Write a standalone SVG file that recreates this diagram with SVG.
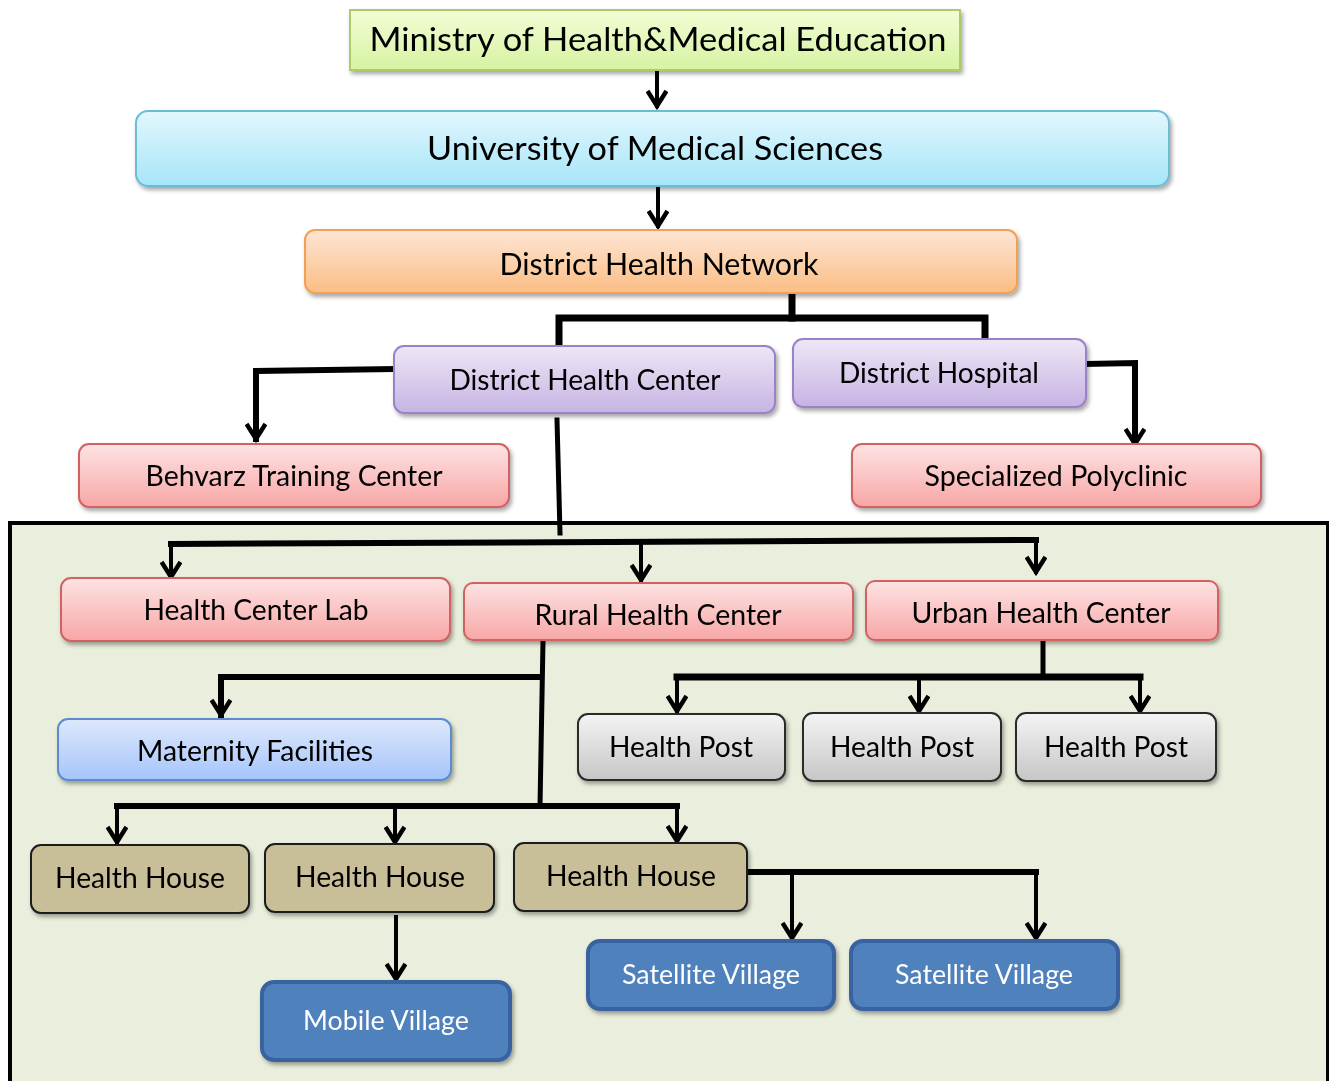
<svg xmlns="http://www.w3.org/2000/svg" width="1329" height="1081" viewBox="0 0 1329 1081">
<defs>
<style>
.t{font-family:Lato,"Open Sans","Liberation Sans",sans-serif;fill:#000;text-anchor:middle;}
.w{fill:#fff;}
.c{fill:none;stroke:#000;stroke-linejoin:miter;stroke-linecap:square;}
.box{filter:url(#sh);}
</style>
<filter id="sh" x="-10%" y="-20%" width="120%" height="150%">
<feDropShadow dx="2" dy="3" stdDeviation="2" flood-color="#000" flood-opacity="0.35"/>
</filter>
<linearGradient id="gGreen" x1="0" y1="0" x2="0" y2="1"><stop offset="0" stop-color="#f3fdd6"/><stop offset="1" stop-color="#d6f3a2"/></linearGradient>
<linearGradient id="gCyan" x1="0" y1="0" x2="0" y2="1"><stop offset="0" stop-color="#e2f7fd"/><stop offset="1" stop-color="#a6e5f9"/></linearGradient>
<linearGradient id="gOrange" x1="0" y1="0" x2="0" y2="1"><stop offset="0" stop-color="#fde6d4"/><stop offset="1" stop-color="#fbbd85"/></linearGradient>
<linearGradient id="gPurple" x1="0" y1="0" x2="0" y2="1"><stop offset="0" stop-color="#eee7f6"/><stop offset="1" stop-color="#c6b3e3"/></linearGradient>
<linearGradient id="gRed" x1="0" y1="0" x2="0" y2="1"><stop offset="0" stop-color="#fde3e3"/><stop offset="1" stop-color="#f8a6a6"/></linearGradient>
<linearGradient id="gBlue" x1="0" y1="0" x2="0" y2="1"><stop offset="0" stop-color="#dde8fb"/><stop offset="1" stop-color="#a6c5fb"/></linearGradient>
<linearGradient id="gGray" x1="0" y1="0" x2="0" y2="1"><stop offset="0" stop-color="#f4f4f4"/><stop offset="1" stop-color="#c6c6c6"/></linearGradient>
<marker id="ah" viewBox="0 0 22 22" refX="18" refY="11" markerWidth="22" markerHeight="22" markerUnits="userSpaceOnUse" orient="auto">
<path d="M3,1.5 L18,11 L3,20.5" fill="none" stroke="#000" stroke-width="4.5" stroke-linejoin="miter"/>
</marker>
</defs>
<rect x="0" y="0" width="1329" height="1081" fill="#fff"/>
<g id="panel">
<rect x="10" y="523" width="1318" height="570" fill="#e9efdc" stroke="#000" stroke-width="4"/>
</g>
<g id="connectors">
<path class="c" d="M657,72 V106" stroke-width="4" marker-end="url(#ah)"/>
<path class="c" d="M658,188 V226" stroke-width="4" marker-end="url(#ah)"/>
<path class="c" d="M792,293 V318" stroke-width="7"/>
<path class="c" d="M559,345 V318 H985 V338" stroke-width="7" stroke-linecap="butt"/>
<path class="c" d="M394,369 L256,371 V439" stroke-width="6" stroke-linecap="butt" marker-end="url(#ah)"/>
<path class="c" d="M1086,364 L1135,363 V444" stroke-width="6" stroke-linecap="butt" marker-end="url(#ah)"/>
<path class="c" d="M557,420 L560,533" stroke-width="5" stroke-linecap="butt"/>
<path class="c" d="M171,544 L1036,540" stroke-width="6"/>
<path class="c" d="M171,544 V577" stroke-width="4" stroke-linecap="butt" marker-end="url(#ah)"/>
<path class="c" d="M641,541 V580" stroke-width="4" stroke-linecap="butt" marker-end="url(#ah)"/>
<path class="c" d="M1036,540 V572" stroke-width="4" stroke-linecap="butt" marker-end="url(#ah)"/>
<path class="c" d="M543,641 L540,806" stroke-width="5" stroke-linecap="butt"/>
<path class="c" d="M537,677 H221 V715" stroke-width="6" stroke-linecap="butt" marker-end="url(#ah)"/>
<path class="c" d="M117,806 H677" stroke-width="6"/>
<path class="c" d="M117,806 V842" stroke-width="4" stroke-linecap="butt" marker-end="url(#ah)"/>
<path class="c" d="M395,806 V842" stroke-width="4" stroke-linecap="butt" marker-end="url(#ah)"/>
<path class="c" d="M677,806 V841" stroke-width="4" stroke-linecap="butt" marker-end="url(#ah)"/>
<path class="c" d="M1043,641 V677" stroke-width="5" stroke-linecap="butt"/>
<path class="c" d="M677,677 H1140" stroke-width="7"/>
<path class="c" d="M677,677 V711" stroke-width="4" stroke-linecap="butt" marker-end="url(#ah)"/>
<path class="c" d="M919,677 V711" stroke-width="4" stroke-linecap="butt" marker-end="url(#ah)"/>
<path class="c" d="M1140,677 V711" stroke-width="4" stroke-linecap="butt" marker-end="url(#ah)"/>
<path class="c" d="M396,917 V979" stroke-width="4" stroke-linecap="butt" marker-end="url(#ah)"/>
<path class="c" d="M748,872 H1036" stroke-width="6"/>
<path class="c" d="M792,872 V938" stroke-width="4" stroke-linecap="butt" marker-end="url(#ah)"/>
<path class="c" d="M1036,872 V938" stroke-width="4" stroke-linecap="butt" marker-end="url(#ah)"/>
</g>
<g id="ministry" class="box">
<rect x="350" y="10" width="610" height="60" fill="url(#gGreen)" stroke="#a9cd6b" stroke-width="2"/>
<text class="t" x="658" y="51" font-size="33" textLength="577" lengthAdjust="spacingAndGlyphs">Ministry of Health&amp;Medical Education</text>
</g>
<g id="university" class="box">
<rect x="136" y="111" width="1033" height="75" rx="12" fill="url(#gCyan)" stroke="#6cbcd7" stroke-width="2"/>
<text class="t" x="655" y="160" font-size="33" textLength="456" lengthAdjust="spacingAndGlyphs">University of Medical Sciences</text>
</g>
<g id="network" class="box">
<rect x="305" y="230" width="712" height="63" rx="10" fill="url(#gOrange)" stroke="#f4a053" stroke-width="2"/>
<text class="t" x="659" y="275" font-size="30" textLength="319" lengthAdjust="spacingAndGlyphs">District Health Network</text>
</g>
<g id="dhc" class="box">
<rect x="394" y="346" width="381" height="67" rx="10" fill="url(#gPurple)" stroke="#9a82c8" stroke-width="2"/>
<text class="t" x="585" y="390" font-size="28" textLength="271" lengthAdjust="spacingAndGlyphs">District Health Center</text>
</g>
<g id="hospital" class="box">
<rect x="793" y="339" width="293" height="68" rx="10" fill="url(#gPurple)" stroke="#9a82c8" stroke-width="2"/>
<text class="t" x="939" y="383" font-size="28" textLength="200" lengthAdjust="spacingAndGlyphs">District Hospital</text>
</g>
<g id="behvarz" class="box">
<rect x="79" y="444" width="430" height="63" rx="10" fill="url(#gRed)" stroke="#d26262" stroke-width="2"/>
<text class="t" x="294" y="486" font-size="28" textLength="297" lengthAdjust="spacingAndGlyphs">Behvarz Training Center</text>
</g>
<g id="polyclinic" class="box">
<rect x="852" y="444" width="409" height="63" rx="10" fill="url(#gRed)" stroke="#d26262" stroke-width="2"/>
<text class="t" x="1056" y="486" font-size="28" textLength="263" lengthAdjust="spacingAndGlyphs">Specialized Polyclinic</text>
</g>
<g id="lab" class="box">
<rect x="61" y="578" width="389" height="63" rx="10" fill="url(#gRed)" stroke="#d26262" stroke-width="2"/>
<text class="t" x="256" y="620" font-size="28" textLength="225" lengthAdjust="spacingAndGlyphs">Health Center Lab</text>
</g>
<g id="rural" class="box">
<rect x="464" y="583" width="389" height="57" rx="9" fill="url(#gRed)" stroke="#d26262" stroke-width="2"/>
<text class="t" x="658" y="625" font-size="28" textLength="247" lengthAdjust="spacingAndGlyphs">Rural Health Center</text>
</g>
<g id="urban" class="box">
<rect x="866" y="581" width="352" height="59" rx="9" fill="url(#gRed)" stroke="#d26262" stroke-width="2"/>
<text class="t" x="1041" y="623" font-size="28" textLength="259" lengthAdjust="spacingAndGlyphs">Urban Health Center</text>
</g>
<g id="maternity" class="box">
<rect x="58" y="719" width="393" height="61" rx="10" fill="url(#gBlue)" stroke="#5b8bd0" stroke-width="2"/>
<text class="t" x="255" y="761" font-size="28" textLength="236" lengthAdjust="spacingAndGlyphs">Maternity Facilities</text>
</g>
<g id="post1" class="box">
<rect x="578" y="714" width="207" height="66" rx="10" fill="url(#gGray)" stroke="#2a2a2a" stroke-width="2"/>
<text class="t" x="681" y="757" font-size="28" textLength="144" lengthAdjust="spacingAndGlyphs">Health Post</text>
</g>
<g id="post2" class="box">
<rect x="803" y="713" width="198" height="68" rx="10" fill="url(#gGray)" stroke="#2a2a2a" stroke-width="2"/>
<text class="t" x="902" y="757" font-size="28" textLength="144" lengthAdjust="spacingAndGlyphs">Health Post</text>
</g>
<g id="post3" class="box">
<rect x="1016" y="713" width="200" height="68" rx="10" fill="url(#gGray)" stroke="#2a2a2a" stroke-width="2"/>
<text class="t" x="1116" y="757" font-size="28" textLength="144" lengthAdjust="spacingAndGlyphs">Health Post</text>
</g>
<g id="house1" class="box">
<rect x="31" y="845" width="218" height="68" rx="10" fill="#c8bf98" stroke="#1c1c1c" stroke-width="2"/>
<text class="t" x="140" y="888" font-size="28" textLength="170" lengthAdjust="spacingAndGlyphs">Health House</text>
</g>
<g id="house2" class="box">
<rect x="265" y="844" width="229" height="68" rx="10" fill="#c8bf98" stroke="#1c1c1c" stroke-width="2"/>
<text class="t" x="380" y="887" font-size="28" textLength="170" lengthAdjust="spacingAndGlyphs">Health House</text>
</g>
<g id="house3" class="box">
<rect x="514" y="843" width="233" height="68" rx="10" fill="#c8bf98" stroke="#1c1c1c" stroke-width="2"/>
<text class="t" x="631" y="886" font-size="28" textLength="170" lengthAdjust="spacingAndGlyphs">Health House</text>
</g>
<g id="mobile" class="box">
<rect x="262" y="982" width="248" height="78" rx="12" fill="#4f81bd" stroke="#3a62a0" stroke-width="4"/>
<text class="t w" x="386" y="1030" font-size="27" textLength="166" lengthAdjust="spacingAndGlyphs">Mobile Village</text>
</g>
<g id="satellite1" class="box">
<rect x="588" y="941" width="246" height="68" rx="12" fill="#4f81bd" stroke="#3a62a0" stroke-width="4"/>
<text class="t w" x="711" y="984" font-size="27" textLength="178" lengthAdjust="spacingAndGlyphs">Satellite Village</text>
</g>
<g id="satellite2" class="box">
<rect x="851" y="941" width="267" height="68" rx="12" fill="#4f81bd" stroke="#3a62a0" stroke-width="4"/>
<text class="t w" x="984" y="984" font-size="27" textLength="178" lengthAdjust="spacingAndGlyphs">Satellite Village</text>
</g>
</svg>
